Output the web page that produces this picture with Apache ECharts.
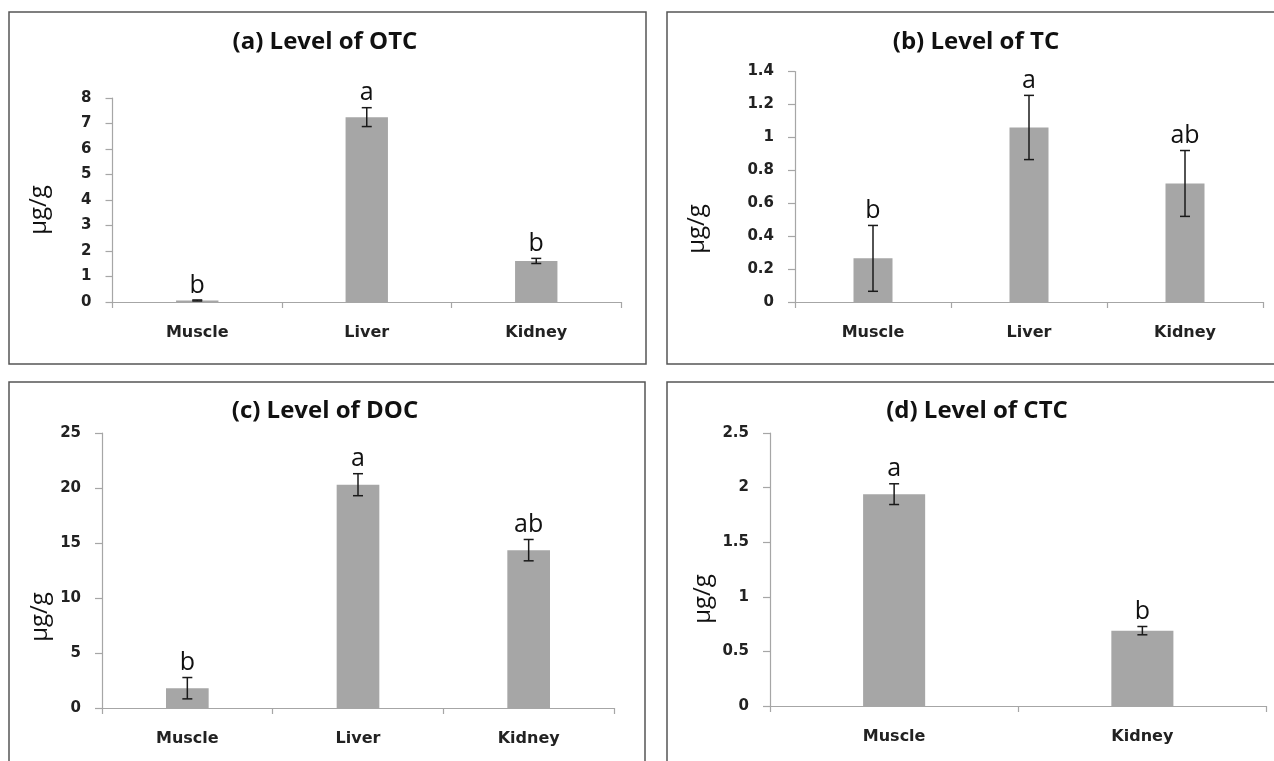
<!DOCTYPE html>
<html>
<head>
<meta charset="utf-8">
<script src="https://cdn.jsdelivr.net/npm/echarts@6/dist/echarts.min.js"></script>
<style>
  html, body { margin: 0; padding: 0; background: #fff; }
  #chart { width: 1274px; height: 761px; }
</style>
</head>
<body>
<div id="chart"></div>
<script>
// ---- data ----
var categories3 = ['Muscle', 'Liver', 'Kidney'];
var categoriesCTC = ['Muscle', 'Kidney'];

var otcMean = [0.06, 7.25, 1.61];
var otcErr = [0.02, 0.37, 0.10];
var otcLetters = ['b', 'a', 'b'];

var tcMean = [0.265, 1.06, 0.72];
var tcErr = [0.20, 0.195, 0.20];
var tcLetters = ['b', 'a', 'ab'];

var docMean = [1.8, 20.3, 14.35];
var docErr = [0.97, 1.0, 0.97];
var docLetters = ['b', 'a', 'ab'];

var ctcMean = [1.94, 0.69];
var ctcErr = [0.095, 0.038];
var ctcLetters = ['a', 'b'];

var titles = ['(a) Level of OTC', '(b) Level of TC', '(c) Level of DOC', '(d) Level of CTC'];
var unitLabel = 'µg/g';

// ---- layout ----
var panels = [
  { grid: { left: 112.5, top: 98, width: 508.5, height: 204 }, cats: categories3, mean: otcMean, err: otcErr, letters: otcLetters, max: 8, interval: 1, titleX: 325, titleY: 30, unitX: 39, unitY: 210 },
  { grid: { left: 795, top: 71.5, width: 468, height: 230.5 }, cats: categories3, mean: tcMean, err: tcErr, letters: tcLetters, max: 1.4, interval: 0.2, titleX: 976, titleY: 30, unitX: 697, unitY: 229 },
  { grid: { left: 102, top: 433, width: 512, height: 275 }, cats: categories3, mean: docMean, err: docErr, letters: docLetters, max: 25, interval: 5, titleX: 325, titleY: 399, unitX: 40, unitY: 617 },
  { grid: { left: 770, top: 433, width: 496.5, height: 273 }, cats: categoriesCTC, mean: ctcMean, err: ctcErr, letters: ctcLetters, max: 2.5, interval: 0.5, titleX: 977, titleY: 399, unitX: 703, unitY: 599 }
];

var axisColor = '#a6a6a6';
var labelFont = 'DejaVu Sans';

function errRender(letters) {
  return function (params, api) {
    var i = api.value(0), v = api.value(1), e = api.value(2);
    var top = api.coord([i, v + e]);
    var bot = api.coord([i, v - e]);
    var hw = 5;
    var st = { stroke: '#1a1a1a', lineWidth: 1.5 };
    return {
      type: 'group',
      children: [
        { type: 'line', shape: { x1: top[0], y1: top[1], x2: bot[0], y2: bot[1] }, style: st },
        { type: 'line', shape: { x1: top[0] - hw, y1: top[1], x2: top[0] + hw, y2: top[1] }, style: st },
        { type: 'line', shape: { x1: bot[0] - hw, y1: bot[1], x2: bot[0] + hw, y2: bot[1] }, style: st },
        { type: 'text', x: top[0], y: top[1] - 2, style: { text: letters[params.dataIndex], font: '25px "Open Sans"', fill: '#111', align: 'center', verticalAlign: 'bottom' } }
      ]
    };
  };
}

var option = {
  animation: false,
  backgroundColor: '#fff',
  title: [], grid: [], xAxis: [], yAxis: [], series: [],
  graphic: [
    { type: 'rect', shape: { x: 9, y: 12, width: 637, height: 352 }, style: { fill: 'none', stroke: '#555', lineWidth: 1.5 } },
    { type: 'rect', shape: { x: 667, y: 12, width: 640, height: 352 }, style: { fill: 'none', stroke: '#555', lineWidth: 1.5 } },
    { type: 'rect', shape: { x: 9, y: 382, width: 636, height: 420 }, style: { fill: 'none', stroke: '#555', lineWidth: 1.5 } },
    { type: 'rect', shape: { x: 667, y: 382, width: 640, height: 420 }, style: { fill: 'none', stroke: '#555', lineWidth: 1.5 } }
  ]
};

panels.forEach(function (p, k) {
  option.title.push({
    text: titles[k], left: p.titleX, top: p.titleY, textAlign: 'center', padding: 0,
    textStyle: { fontFamily: 'Open Sans', fontWeight: 'bold', fontSize: 24, color: '#111' }
  });
  option.grid.push(p.grid);
  option.xAxis.push({
    type: 'category', gridIndex: k, data: p.cats,
    axisLine: { lineStyle: { color: axisColor, width: 1.2 } },
    axisTick: { show: true, length: 6, lineStyle: { color: axisColor, width: 1.2 } },
    axisLabel: { interval: 0, margin: 23, fontFamily: labelFont, fontWeight: 'bold', fontSize: 16, color: '#222' },
    splitLine: { show: false }
  });
  option.yAxis.push({
    type: 'value', gridIndex: k, min: 0, max: p.max, interval: p.interval,
    axisLine: { show: true, lineStyle: { color: axisColor, width: 1.2 } },
    axisTick: { show: true, length: 7, lineStyle: { color: axisColor, width: 1.2 } },
    axisLabel: { margin: 21, fontFamily: labelFont, fontWeight: 'bold', fontSize: 15, color: '#222' },
    splitLine: { show: false }
  });
  option.series.push({
    type: 'bar', xAxisIndex: k, yAxisIndex: k, data: p.mean, barWidth: '25%',
    itemStyle: { color: '#a6a6a6' }
  });
  option.series.push({
    type: 'custom', xAxisIndex: k, yAxisIndex: k,
    data: p.mean.map(function (m, i) { return [i, m, p.err[i]]; }),
    encode: { x: 0, y: 1 },
    renderItem: errRender(p.letters), z: 5
  });
  option.graphic.push({
    type: 'text', x: p.unitX, y: p.unitY, rotation: Math.PI / 2,
    style: { text: unitLabel, font: '24px "Open Sans"', fill: '#111', align: 'center', verticalAlign: 'middle' }
  });
});

var chart = echarts.init(document.getElementById('chart'), null, { renderer: 'canvas' });
chart.setOption(option);
</script>
</body>
</html>
